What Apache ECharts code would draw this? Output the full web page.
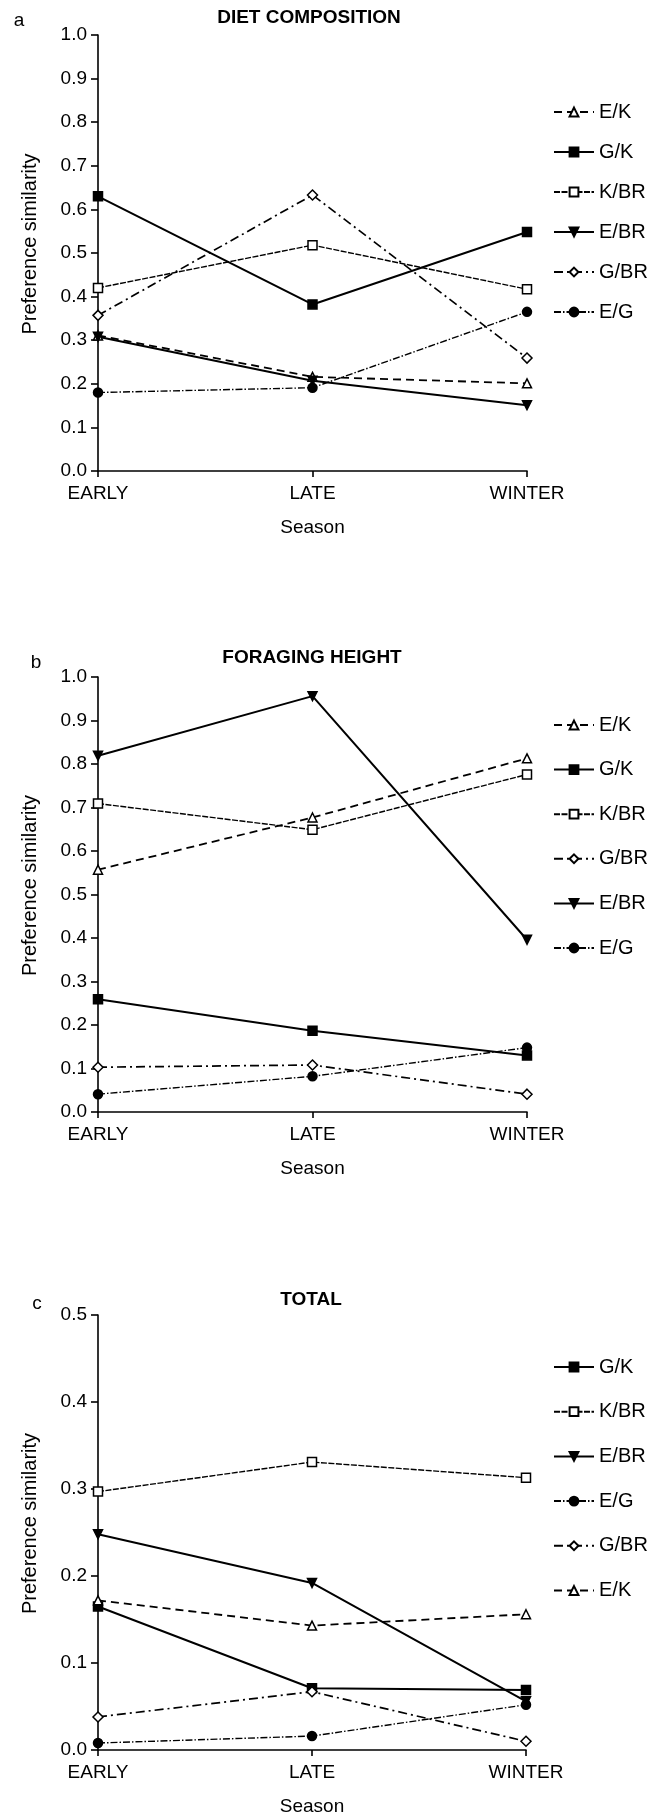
<!DOCTYPE html>
<html>
<head>
<meta charset="utf-8">
<script src="https://cdn.jsdelivr.net/npm/echarts@6/dist/echarts.min.js"></script>
<style>
  html, body { margin: 0; padding: 0; background: #fff; }
  #chart { width: 652px; height: 1817px; }
</style>
</head>
<body>
<div id="chart"></div>
<script>
// Seasons on the x axis
const seasons = ['EARLY', 'LATE', 'WINTER'];

// a: diet composition
const dietEK  = [0.311, 0.216, 0.201];
const dietGK  = [0.630, 0.382, 0.548];
const dietKBR = [0.420, 0.518, 0.417];
const dietEBR = [0.308, 0.207, 0.151];
const dietGBR = [0.357, 0.633, 0.259];
const dietEG  = [0.180, 0.191, 0.365];

// b: foraging height
const heightEK  = [0.557, 0.677, 0.813];
const heightGK  = [0.259, 0.187, 0.130];
const heightKBR = [0.709, 0.649, 0.776];
const heightGBR = [0.103, 0.108, 0.041];
const heightEBR = [0.819, 0.956, 0.396];
const heightEG  = [0.041, 0.082, 0.148];

// c: total
const totalGK  = [0.165, 0.071, 0.069];
const totalKBR = [0.297, 0.331, 0.313];
const totalEBR = [0.248, 0.192, 0.056];
const totalEG  = [0.008, 0.016, 0.052];
const totalGBR = [0.038, 0.067, 0.010];
const totalEK  = [0.172, 0.143, 0.156];

// Legend order in each panel
const legendA = ['E/K', 'G/K', 'K/BR', 'E/BR', 'G/BR', 'E/G'];
const legendB = ['E/K', 'G/K', 'K/BR', 'G/BR', 'E/BR', 'E/G'];
const legendC = ['G/K', 'K/BR', 'E/BR', 'E/G', 'G/BR', 'E/K'];

// Panel titles and y-axis maxima
const panelTitles = ['DIET COMPOSITION', 'FORAGING HEIGHT', 'TOTAL'];
const panelLetters = ['a', 'b', 'c'];
const yMax = [1.0, 1.0, 0.5];

const FONT = '"Liberation Sans", Arial, Helvetica, sans-serif';

// Marker / line look of each species pair
const pairStyle = {
  'E/K':  { symbol: 'triangle', rotate: 0,   fill: '#fff', dash: [8, 5],          width: 1.8 },
  'G/K':  { symbol: 'rect',     rotate: 0,   fill: '#000', dash: 'solid',         width: 2.0 },
  'K/BR': { symbol: 'rect',     rotate: 0,   fill: '#fff', dash: [6, 1.5],        width: 1.4 },
  'E/BR': { symbol: 'triangle', rotate: 180, fill: '#000', dash: 'solid',         width: 2.0 },
  'G/BR': { symbol: 'diamond',  rotate: 0,   fill: '#fff', dash: [9, 4, 2, 4],    width: 1.7 },
  'E/G':  { symbol: 'circle',   rotate: 0,   fill: '#000', dash: [7, 2, 1.5, 2],  width: 1.4 }
};

function makeSeries(name, values, idx) {
  const s = pairStyle[name];
  return {
    type: 'line',
    name: name,
    xAxisIndex: idx,
    yAxisIndex: idx,
    data: values,
    symbol: s.symbol,
    symbolRotate: s.rotate,
    symbolSize: s.symbol === 'diamond' ? 10 : 9,
    showAllSymbol: true,
    lineStyle: { color: '#000', width: s.width, type: s.dash },
    itemStyle: { color: s.fill, borderColor: '#000', borderWidth: 1.5 },
    emphasis: { disabled: true },
    z: 3
  };
}

const grids = [
  { left: 98, top: 35,   width: 429, height: 436 },
  { left: 98, top: 677,  width: 429, height: 435 },
  { left: 98, top: 1315, width: 428, height: 435 }
];

const axisLineStyle = { color: '#000', width: 1.6 };

const xAxes = grids.map((g, i) => ({
  type: 'category',
  gridIndex: i,
  data: seasons,
  boundaryGap: false,
  axisLine: { lineStyle: axisLineStyle },
  axisTick: { show: true, length: 6, lineStyle: axisLineStyle },
  axisLabel: { color: '#000', fontSize: 19, fontFamily: FONT, margin: 13 },
  name: 'Season',
  nameLocation: 'middle',
  nameGap: 47,
  nameTextStyle: { color: '#000', fontSize: 19, fontFamily: FONT },
  splitLine: { show: false }
}));

const yAxes = grids.map((g, i) => ({
  type: 'value',
  gridIndex: i,
  min: 0,
  max: yMax[i],
  interval: 0.1,
  axisLine: { show: true, lineStyle: axisLineStyle },
  axisTick: { show: true, length: 7, lineStyle: axisLineStyle },
  axisLabel: { color: '#000', fontSize: 19, fontFamily: FONT, margin: 11,
               formatter: v => v.toFixed(1) },
  splitLine: { show: false },
  name: 'Preference similarity',
  nameLocation: 'middle',
  nameRotate: 90,
  nameGap: 58,
  nameTextStyle: { color: '#000', fontSize: 20, fontFamily: FONT, padding: [0, 0, 0, 18] }
}));

const series = [
  makeSeries('E/K',  dietEK,  0),
  makeSeries('G/K',  dietGK,  0),
  makeSeries('K/BR', dietKBR, 0),
  makeSeries('E/BR', dietEBR, 0),
  makeSeries('G/BR', dietGBR, 0),
  makeSeries('E/G',  dietEG,  0),

  makeSeries('E/K',  heightEK,  1),
  makeSeries('G/K',  heightGK,  1),
  makeSeries('K/BR', heightKBR, 1),
  makeSeries('G/BR', heightGBR, 1),
  makeSeries('E/BR', heightEBR, 1),
  makeSeries('E/G',  heightEG,  1),

  makeSeries('G/K',  totalGK,  2),
  makeSeries('K/BR', totalKBR, 2),
  makeSeries('E/BR', totalEBR, 2),
  makeSeries('E/G',  totalEG,  2),
  makeSeries('G/BR', totalGBR, 2),
  makeSeries('E/K',  totalEK,  2)
];

function makeLegend(names, top, gap) {
  return {
    orient: 'vertical',
    left: 553,
    top: top,
    padding: 0,
    itemWidth: 40,
    itemHeight: 11,
    itemGap: gap,
    selectedMode: false,
    textStyle: { color: '#000', fontSize: 20, lineHeight: 20, fontFamily: FONT },
    data: names
  };
}

const titleY = [18, 658, 1300];
const titleX = [309, 312, 311];
const letterPos = [[19, 21], [36, 663], [37, 1304]];

const graphics = [];
panelTitles.forEach((t, i) => {
  graphics.push({
    type: 'text', x: titleX[i], y: titleY[i],
    style: { text: t, fill: '#000', font: 'bold 19px ' + FONT,
             textAlign: 'center', textVerticalAlign: 'middle' }
  });
  graphics.push({
    type: 'text', x: letterPos[i][0], y: letterPos[i][1],
    style: { text: panelLetters[i], fill: '#000', font: '19px ' + FONT,
             textAlign: 'center', textVerticalAlign: 'middle' }
  });
});

const chart = echarts.init(document.getElementById('chart'), null, { renderer: 'canvas' });
chart.setOption({
  backgroundColor: '#fff',
  animation: false,
  grid: grids,
  xAxis: xAxes,
  yAxis: yAxes,
  legend: [
    makeLegend(legendA, 102, 20),
    makeLegend(legendB, 715, 24.6),
    makeLegend(legendC, 1357, 24.7)
  ],
  graphic: graphics,
  series: series
});
</script>
</body>
</html>
